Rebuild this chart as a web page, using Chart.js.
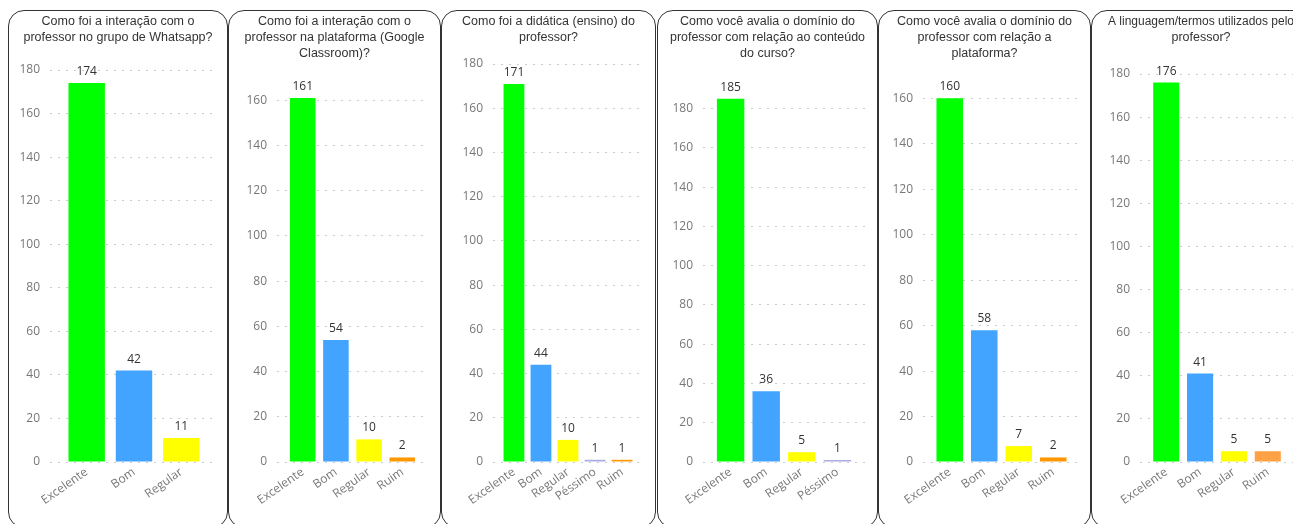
<!DOCTYPE html>
<html>
<head>
<meta charset="utf-8">
<title>Avaliação do professor</title>
<script src="https://cdn.jsdelivr.net/npm/chart.js"></script>
<style>
  body { margin: 0; background: #fff; width: 1293px; height: 524px; overflow: hidden; position: relative; }
  .painel { position: absolute; top: 10px; height: 518px; border: 1px solid #333; border-radius: 16px; box-sizing: border-box; background: #fff; overflow: hidden; }
  .painel canvas { position: absolute; left: 0; top: 0; }
</style>
</head>
<body>
<div class="painel" id="p1"><canvas id="c1"></canvas></div>
<div class="painel" id="p2"><canvas id="c2"></canvas></div>
<div class="painel" id="p3"><canvas id="c3"></canvas></div>
<div class="painel" id="p4"><canvas id="c4"></canvas></div>
<div class="painel" id="p5"><canvas id="c5"></canvas></div>
<div class="painel" id="p6"><canvas id="c6"></canvas></div>
<script>
const tituloWhatsapp = ['Como foi a interação com o', 'professor no grupo de Whatsapp?'];
const categoriasWhatsapp = ['Excelente', 'Bom', 'Regular'];
const valoresWhatsapp = [174, 42, 11];

const tituloClassroom = ['Como foi a interação com o', 'professor na plataforma (Google', 'Classroom)?'];
const categoriasClassroom = ['Excelente', 'Bom', 'Regular', 'Ruim'];
const valoresClassroom = [161, 54, 10, 2];

const tituloDidatica = ['Como foi a didática (ensino) do', 'professor?'];
const categoriasDidatica = ['Excelente', 'Bom', 'Regular', 'Péssimo', 'Ruim'];
const valoresDidatica = [171, 44, 10, 1, 1];

const tituloConteudo = ['Como você avalia o domínio do', 'professor com relação ao conteúdo', 'do curso?'];
const categoriasConteudo = ['Excelente', 'Bom', 'Regular', 'Péssimo'];
const valoresConteudo = [185, 36, 5, 1];

const tituloPlataforma = ['Como você avalia o domínio do', 'professor com relação a', 'plataforma?'];
const categoriasPlataforma = ['Excelente', 'Bom', 'Regular', 'Ruim'];
const valoresPlataforma = [160, 58, 7, 2];

const tituloLinguagem = ['A linguagem/termos utilizados pelo', 'professor?'];
const categoriasLinguagem = ['Excelente', 'Bom', 'Regular', 'Ruim'];
const valoresLinguagem = [176, 41, 5, 5];

const cores = { 'Excelente': '#00ff00', 'Bom': '#42a4ff', 'Regular': '#ffff00', 'Ruim': '#ff9800', 'Péssimo': '#a9a9e6' };

// posição de cada cartão e da área do gráfico (px)
const paineis = [
  { id: 1, left: 8,    width: 220, titulo: tituloWhatsapp,   categorias: categoriasWhatsapp,   valores: valoresWhatsapp,   max: 180, eixoY: 41, direita: 9,  gap: 24 },
  { id: 2, left: 228,  width: 213, titulo: tituloClassroom,  categorias: categoriasClassroom,  valores: valoresClassroom,  max: 165, eixoY: 48, direita: 12, gap: 27 },
  { id: 3, left: 441,  width: 215, titulo: tituloDidatica,   categorias: categoriasDidatica,   valores: valoresDidatica,   max: 180, eixoY: 51, direita: 12, gap: 18 },
  { id: 4, left: 657,  width: 221, titulo: tituloConteudo,   categorias: categoriasConteudo,   valores: valoresConteudo,   max: 190, eixoY: 45, direita: 12, gap: 27 },
  { id: 5, left: 878,  width: 213, titulo: tituloPlataforma, categorias: categoriasPlataforma, valores: valoresPlataforma, max: 165, eixoY: 44, direita: 10, gap: 25 },
  { id: 6, left: 1091, width: 225, titulo: tituloLinguagem,  categorias: categoriasLinguagem,  valores: valoresLinguagem,  max: 180, eixoY: 48, direita: 21, gap: 28, ruim: '#ffa245' }
];

const rotulosValores = {
  id: 'rotulosValores',
  afterDatasetsDraw(chart) {
    const ctx = chart.ctx;
    ctx.save();
    ctx.font = '12px "Open Sans"';
    ctx.fillStyle = '#333';
    ctx.textAlign = 'center';
    ctx.textBaseline = 'alphabetic';
    const ds = chart.data.datasets[0];
    chart.getDatasetMeta(0).data.forEach((bar, i) => {
      ctx.fillText(ds.data[i], bar.x, bar.y - 8);
    });
    ctx.restore();
  }
};

const fonteEixo = { family: '"Open Sans", "Noto Sans", sans-serif', size: 12 };

paineis.forEach(p => {
  const div = document.getElementById('p' + p.id);
  div.style.left = p.left + 'px';
  div.style.width = p.width + 'px';
  const canvas = document.getElementById('c' + p.id);
  canvas.width = p.width - 2;
  canvas.height = 516;

  const coresBarras = p.categorias.map(c => (c === 'Ruim' && p.ruim) ? p.ruim : cores[c]);
  // folga à esquerda parecida com a da direita (título centrado), mas sem cortar os números do eixo
  const esquerda = Math.min(p.direita, p.eixoY - 32);

  new Chart(canvas, {
    type: 'bar',
    data: {
      labels: p.categorias,
      datasets: [{
        data: p.valores,
        backgroundColor: coresBarras,
        borderWidth: 0,
        barPercentage: 0.77,
        categoryPercentage: 1
      }]
    },
    options: {
      responsive: false,
      animation: false,
      devicePixelRatio: 1,
      layout: { padding: { left: esquerda, right: p.direita, top: 0, bottom: 0 } },
      plugins: {
        legend: { display: false },
        tooltip: { enabled: false },
        title: {
          display: true,
          text: p.titulo,
          color: '#333',
          font: { family: '"Liberation Sans", Arial, sans-serif', size: 12.5, weight: 'normal', lineHeight: '16px' },
          padding: { top: 3, bottom: p.gap }
        }
      },
      scales: {
        x: {
          border: { display: false },
          grid: { display: false, drawTicks: false },
          ticks: { color: '#777', font: fonteEixo, minRotation: 35, maxRotation: 35, autoSkip: false, padding: 3 },
          afterBuildTicks(s) {
            // um pouco de folga dos dois lados, como no original
            s._startValue -= 0.275;
            s._valueRange += 0.55;
          },
          afterFit(s) { s.height = 65; }
        },
        y: {
          min: 0,
          max: p.max,
          border: { display: false, dash: [2, 6] },
          grid: { color: '#cccccc', drawTicks: false },
          ticks: { stepSize: 20, color: '#777', font: fonteEixo, padding: 10 },
          afterBuildTicks(s) {
            // só múltiplos de 20, sem marca no topo do eixo
            const t = [];
            for (let v = 0; v <= s.max; v += 20) t.push({ value: v });
            s.ticks = t;
          },
          afterFit(s) { s.width = p.eixoY - esquerda; }
        }
      }
    },
    plugins: [rotulosValores]
  });
});
</script>
</body>
</html>
